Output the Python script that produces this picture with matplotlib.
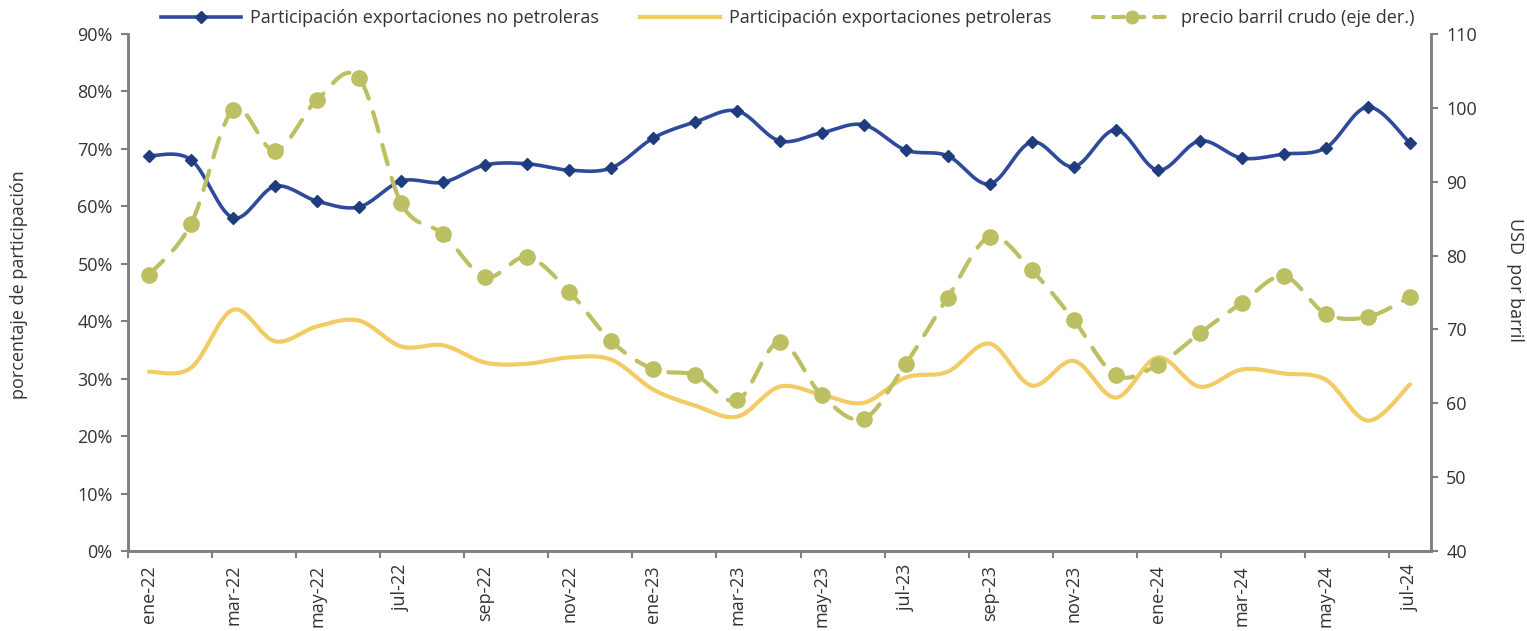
import numpy as np
import matplotlib
matplotlib.use("Agg")
import matplotlib.pyplot as plt
from matplotlib.lines import Line2D

plt.rcParams['font.family'] = ['Open Sans', 'DejaVu Sans']

# meses ene-22 .. jul-24
meses = ['ene-22', 'feb-22', 'mar-22', 'abr-22', 'may-22', 'jun-22', 'jul-22', 'ago-22',
         'sep-22', 'oct-22', 'nov-22', 'dic-22', 'ene-23', 'feb-23', 'mar-23', 'abr-23',
         'may-23', 'jun-23', 'jul-23', 'ago-23', 'sep-23', 'oct-23', 'nov-23', 'dic-23',
         'ene-24', 'feb-24', 'mar-24', 'abr-24', 'may-24', 'jun-24', 'jul-24']

no_petroleras = [68.8, 68.1, 58.0, 63.5, 60.9, 59.9, 64.4, 64.2, 67.2, 67.4, 66.3, 66.7,
                 71.9, 74.7, 76.6, 71.4, 72.8, 74.2, 69.8, 68.8, 63.9, 71.2, 66.9, 73.3,
                 66.3, 71.4, 68.4, 69.1, 70.2, 77.3, 71.0]
petroleras = [31.2, 31.9, 42.0, 36.5, 39.1, 40.1, 35.6, 35.8, 32.8, 32.6, 33.7, 33.3,
              28.1, 25.3, 23.4, 28.6, 27.2, 25.8, 30.2, 31.2, 36.1, 28.8, 33.1, 26.7,
              33.7, 28.6, 31.6, 30.9, 29.8, 22.7, 29.0]
precio_crudo = [77.4, 84.3, 99.7, 94.2, 101.1, 104.0, 87.1, 82.9, 77.1, 79.8, 75.1, 68.4,
                64.6, 63.8, 60.4, 68.3, 61.1, 57.9, 65.3, 74.3, 82.5, 78.0, 71.3, 63.8,
                65.2, 69.5, 73.6, 77.2, 72.1, 71.7, 74.4]

AZUL = '#2E4A9B'
AZUL_MK = '#1F3C7E'
AMARILLO = '#F2CB64'
VERDE = '#BDBF63'
GRIS = '#7F7F7F'
TXT = '#333333'
FS = 13


def suavizar(y, n=20):
    # curva tipo Excel (bezier con puntos de control de los vecinos)
    y = np.asarray(y, float)
    x = np.arange(len(y), dtype=float)
    P = np.column_stack([x, y])
    Pe = np.vstack([P[0], P, P[-1]])
    out = []
    t = np.linspace(0, 1, n)[:, None]
    for i in range(len(P) - 1):
        p0, p1, p2, p3 = Pe[i], Pe[i + 1], Pe[i + 2], Pe[i + 3]
        c1 = p1 + (p2 - p0) / 6
        c2 = p2 - (p3 - p1) / 6
        seg = ((1 - t) ** 3) * p1 + 3 * ((1 - t) ** 2) * t * c1 + 3 * (1 - t) * t ** 2 * c2 + t ** 3 * p2
        out.append(seg if i == 0 else seg[1:])
    s = np.vstack(out)
    return s[:, 0], s[:, 1]


fig = plt.figure(figsize=(15.27, 6.31), dpi=100)
ax = fig.add_axes([128 / 1527, 80 / 631, (1431 - 128) / 1527, (551 - 34) / 631])
ax2 = ax.twinx()

x = np.arange(len(meses))

xs, ys = suavizar(petroleras)
ax.plot(xs, ys, color=AMARILLO, lw=3.0, solid_capstyle='round', zorder=2)
xs, ys = suavizar(no_petroleras)
ax.plot(xs, ys, color=AZUL, lw=2.6, zorder=3)
ax.plot(x, no_petroleras, ls='none', marker='D', ms=6.5, color=AZUL_MK, zorder=4)

xs, ys = suavizar(precio_crudo)
ax2.plot(xs, ys, color=VERDE, lw=3.0, dashes=(4.8, 3.4), dash_capstyle='round')
ax2.plot(x, precio_crudo, ls='none', marker='o', ms=11, color=VERDE)

ax.set_xlim(-0.5, len(meses) - 0.5)
ax.set_ylim(0, 90)
ax2.set_ylim(40, 110)
ax.set_yticks(np.arange(0, 91, 10))
ax.set_yticklabels([f'{v}%' for v in range(0, 91, 10)])
ax2.set_yticks(np.arange(40, 111, 10))

ax.set_xticks(x[::2])
ax.set_xticklabels(meses[::2], rotation=90)
ax.set_xticks(np.arange(-0.5, len(meses), 2), minor=True)
ax.tick_params(axis='x', which='major', length=0, pad=10, labelsize=FS, labelcolor=TXT)
ax.tick_params(axis='x', which='minor', length=5, width=1.5, color=GRIS, direction='out')
ax.tick_params(axis='y', length=5, width=1.5, color=GRIS, labelsize=FS, labelcolor=TXT, pad=6)
ax2.tick_params(axis='y', length=5, width=1.5, color=GRIS, labelsize=FS, labelcolor=TXT, pad=6)

for a in (ax, ax2):
    a.spines['top'].set_visible(False)
    for s in ('left', 'right', 'bottom'):
        a.spines[s].set_color(GRIS)
        a.spines[s].set_linewidth(1.8)

# titulos de ejes
fig.text(19 / 1527, 1 - 285 / 631, 'porcentaje de participación', fontsize=FS, color=TXT,
         rotation=90, ha='center', va='center')
fig.text(1515 / 1527, 1 - 280 / 631, 'USD  por barril', fontsize=FS, color=TXT,
         rotation=-90, ha='center', va='center')

handles = [
    Line2D([], [], color=AZUL, lw=2.6, marker='D', ms=6.5, mfc=AZUL_MK, mec=AZUL_MK),
    Line2D([], [], color=AMARILLO, lw=3.0),
    Line2D([], [], color=VERDE, lw=3.0, dashes=(2.5, 2.4), dash_capstyle='round',
           marker='o', ms=9),
]
labels = ['Participación exportaciones no petroleras',
          'Participación exportaciones petroleras',
          'precio barril crudo (eje der.)']
fig.legend(handles, labels, loc='center', bbox_to_anchor=(788 / 1527, 1 - 18 / 631),
           ncol=3, frameon=False, fontsize=FS, handlelength=4.4, columnspacing=2.3,
           handletextpad=0.5, labelcolor=TXT)

fig.savefig('out.png', dpi=100)
